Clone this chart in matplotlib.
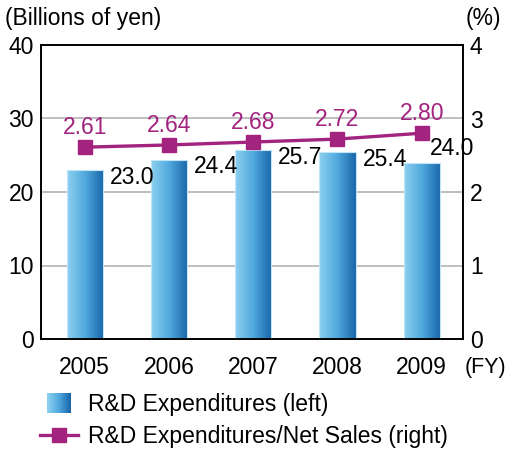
import numpy as np
import matplotlib.pyplot as plt
from matplotlib.patches import Rectangle
from matplotlib.lines import Line2D
from matplotlib.legend_handler import HandlerBase
from matplotlib.colors import LinearSegmentedColormap

plt.rcParams['font.family'] = ['Liberation Sans', 'DejaVu Sans']

years = ['2005', '2006', '2007', '2008', '2009']
rd_exp = [23.0, 24.4, 25.7, 25.4, 24.0]
rd_ratio = [2.61, 2.64, 2.68, 2.72, 2.80]

magenta = '#A3247F'
fs = 16.5
blue_cmap = LinearSegmentedColormap.from_list('bars', ['#8DD0F0', '#4FA8DC', '#1A66AA'])
grad = np.linspace(0, 1, 64).reshape(1, -1)

fig = plt.figure(figsize=(5.08, 4.5), dpi=100)
ax = fig.add_axes([41 / 508, 1 - 339 / 450, 422 / 508, 294 / 450])

x = np.arange(len(years))
bars = ax.bar(x, rd_exp, width=0.43, facecolor='none', edgecolor='none', zorder=2)
for b in bars:
    x0, y0 = b.get_x(), b.get_y()
    w, h = b.get_width(), b.get_height()
    im = ax.imshow(grad, cmap=blue_cmap, aspect='auto', extent=[x0, x0 + w, y0, y0 + h],
                   zorder=2, interpolation='bilinear')
    im.set_clip_path(b)
    ax.add_patch(Rectangle((x0, y0), w, h, fill=False, edgecolor='#BFE6F7', lw=0.8, zorder=3))

for i, v in enumerate(rd_exp):
    if i == len(rd_exp) - 1:
        ax.annotate(f'{v:.1f}', (x[i] + 0.215, v), xytext=(-7, 2), textcoords='offset points',
                    ha='left', va='bottom', fontsize=fs, zorder=5, annotation_clip=False)
    else:
        ax.annotate(f'{v:.1f}', (x[i] + 0.215, v), xytext=(5, 3), textcoords='offset points',
                    ha='left', va='top', fontsize=fs, zorder=5)

ax.set_xlim(-0.52, 4.49)
ax.set_ylim(0, 40)
ax.set_yticks([0, 10, 20, 30, 40])
ax.set_xticks(x)
ax.set_xticklabels(years)
ax.tick_params(length=0, labelsize=fs, pad=5)
ax.tick_params(axis='x', pad=12)
ax.grid(axis='y', color='#B4B4B4', lw=1.2)
ax.set_axisbelow(True)
for s in ax.spines.values():
    s.set_linewidth(1.2)

ax2 = ax.twinx()
ax2.plot(x, rd_ratio, color=magenta, lw=2.4, marker='s', markersize=10, zorder=4)
for i, v in enumerate(rd_ratio):
    ax2.annotate(f'{v:.2f}', (x[i], v), xytext=(0, 6), textcoords='offset points',
                 ha='center', va='bottom', fontsize=fs, color=magenta)
ax2.set_ylim(0, 4)
ax2.set_yticks([0, 1, 2, 3, 4])
ax2.tick_params(length=0, labelsize=fs, pad=5)
for s in ax2.spines.values():
    s.set_linewidth(1.2)

fig.text(5 / 508, 1 - 18 / 450, '(Billions of yen)', fontsize=fs, va='center', ha='left')
fig.text(483 / 508, 1 - 18 / 450, '(%)', fontsize=fs, va='center', ha='center')
fig.text(465 / 508, 1 - 367 / 450, '(FY)', fontsize=15.5, va='center', ha='left')


class GradientHandler(HandlerBase):
    def create_artists(self, legend, orig_handle, xd, yd, width, height, fontsize, trans):
        n = 24
        pw = height * 1.5
        ph = height * 1.3
        x0 = xd + (width - pw) / 2
        y0 = yd + (height - ph) / 2
        arts = []
        for k in range(n):
            r = Rectangle((x0 + pw * k / n, y0), pw / n + 0.3, ph,
                          facecolor=blue_cmap(k / (n - 1)), edgecolor='none', transform=trans)
            arts.append(r)
        return arts


bar_handle = Rectangle((0, 0), 1, 1)
line_handle = Line2D([0], [0], color=magenta, lw=2.4, marker='s', markersize=10)
fig.legend([bar_handle, line_handle],
           ['R&D Expenditures (left)', 'R&D Expenditures/Net Sales (right)'],
           handler_map={Rectangle: GradientHandler()},
           loc='upper left', bbox_to_anchor=(40 / 508, 1 - 393 / 450), frameon=False,
           fontsize=fs, handlelength=1.65, handletextpad=0.45, labelspacing=0.4,
           borderpad=0, borderaxespad=0)

fig.savefig('out.png', dpi=100)
